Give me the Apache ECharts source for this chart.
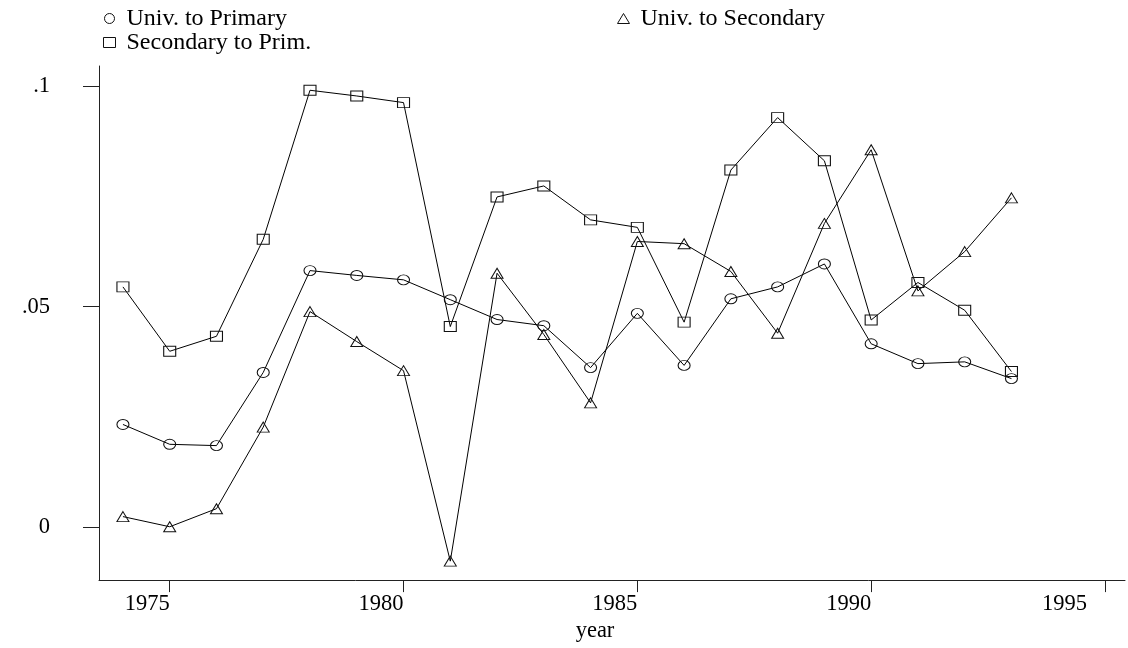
<!DOCTYPE html>
<html>
<head>
<meta charset="utf-8">
<title>Wage premia by year</title>
<script src="https://cdn.jsdelivr.net/npm/echarts@6/dist/echarts.min.js"></script>
<style>
	html, body { margin: 0; padding: 0; background: #fff; }
	#chart { width: 1128px; height: 648px; }
</style>
</head>
<body>
<div id="chart"></div>
<script>
// values, one per year
let years = [1974, 1975, 1976, 1977, 1978, 1979, 1980, 1981, 1982, 1983,
	1984, 1985, 1986, 1987, 1988, 1989, 1990, 1991, 1992, 1993];
let univToPrimary = [0.0233, 0.0188, 0.0185, 0.0351, 0.0582, 0.0571, 0.0561, 0.0516, 0.0471, 0.0457,
	0.0362, 0.0485, 0.0367, 0.0518, 0.0545, 0.0597, 0.0416, 0.0371, 0.0375, 0.0337];
let univToSecondary = [0.0024, 0.0001, 0.0042, 0.0227, 0.0489, 0.0421, 0.0355, -0.0077, 0.0576, 0.0437,
	0.0282, 0.0648, 0.0643, 0.0580, 0.0440, 0.0689, 0.0856, 0.0536, 0.0625, 0.0747];
let secondaryToPrim = [0.0545, 0.0399, 0.0433, 0.0653, 0.0991, 0.0978, 0.0963, 0.0455, 0.0749, 0.0774,
	0.0697, 0.0680, 0.0465, 0.0810, 0.0929, 0.0831, 0.0470, 0.0555, 0.0492, 0.0353];
let xTicks = [1975, 1980, 1985, 1990, 1995];
let yTicks = [0, 0.05, 0.1];
let yTickLabels = ['0', '.05', '.1'];

let fontFam = '"Liberation Serif", "Times New Roman", serif';
let fontSz = 22.5;

function pairs(vals) {
	let out = [];
	for(let i = 0; i < years.length; i++) {
		out.push([years[i], vals[i]]);
	}
	return out;
}

function mkSeries(name, symbol, vals) {
	return {
		name: name,
		type: 'line',
		data: pairs(vals),
		symbol: symbol,
		symbolSize: [12, 10],
		showAllSymbol: true,
		lineStyle: { color: '#000', width: 1 },
		itemStyle: { color: 'rgba(0,0,0,0)', borderColor: '#111', borderWidth: 1 },
		emphasis: { disabled: true }
	};
}

let hollow = { color: 'rgba(0,0,0,0)', borderColor: '#111', borderWidth: 1 };
let legendText = { fontFamily: fontFam, fontSize: 24, lineHeight: 23.5, color: '#000', padding: [0, 0, 0, 6] };

let myChart = echarts.init(document.getElementById('chart'), null, { renderer: 'canvas' });
let option = {
	animation: false,
	backgroundColor: '#fff',
	grid: { left: 99, right: 3, top: 66, bottom: 67.3 },
	legend: [{
		left: 103, top: 6.5, orient: 'vertical', padding: 0,
		itemWidth: 12, itemHeight: 10, itemGap: 0,
		textStyle: legendText,
		selectedMode: false,
		data: [
			{ name: 'Univ. to Primary', icon: 'circle', itemStyle: hollow },
			{ name: 'Secondary to Prim.', icon: 'rect', itemStyle: hollow }
		]
	}, {
		left: 617, top: 6.5, orient: 'vertical', padding: 0,
		itemWidth: 12, itemHeight: 10, itemGap: 0,
		textStyle: legendText,
		selectedMode: false,
		data: [
			{ name: 'Univ. to Secondary', icon: 'triangle', itemStyle: hollow }
		]
	}],
	xAxis: {
		type: 'value',
		min: 1973.488,
		max: 1995.428,
		name: 'year',
		nameLocation: 'middle',
		nameGap: 34,
		nameTextStyle: { fontFamily: fontFam, fontSize: fontSz, color: '#000', padding: [0, 34, 0, 0] },
		axisLine: { onZero: false, lineStyle: { color: '#222', width: 1 } },
		axisTick: { customValues: xTicks, length: 12, lineStyle: { color: '#222' } },
		axisLabel: {
			customValues: xTicks,
			margin: 12,
			align: 'right',
			fontFamily: fontFam, fontSize: fontSz, color: '#000',
			formatter: function(v) {
				// last label is pulled in from the edge
				return v === xTicks[xTicks.length - 1] ? '{last|' + v + '}' : String(v);
			},
			rich: { last: { fontFamily: fontFam, fontSize: fontSz, color: '#000', padding: [0, 18, 0, 0] } }
		},
		splitLine: { show: false }
	},
	yAxis: {
		type: 'value',
		min: -0.012,
		max: 0.1046,
		axisLine: { show: true, onZero: false, lineStyle: { color: '#222', width: 1 } },
		axisTick: { show: true, customValues: yTicks, length: 16, lineStyle: { color: '#222' } },
		axisLabel: {
			customValues: yTicks,
			margin: 49,
			fontFamily: fontFam, fontSize: fontSz, color: '#000',
			formatter: function(v) {
				let i = yTicks.indexOf(v);
				return i >= 0 ? yTickLabels[i] : '';
			}
		},
		splitLine: { show: false }
	},
	series: [
		mkSeries('Univ. to Primary', 'circle', univToPrimary),
		mkSeries('Univ. to Secondary', 'triangle', univToSecondary),
		mkSeries('Secondary to Prim.', 'rect', secondaryToPrim)
	]
};
myChart.setOption(option);
</script>
</body>
</html>
